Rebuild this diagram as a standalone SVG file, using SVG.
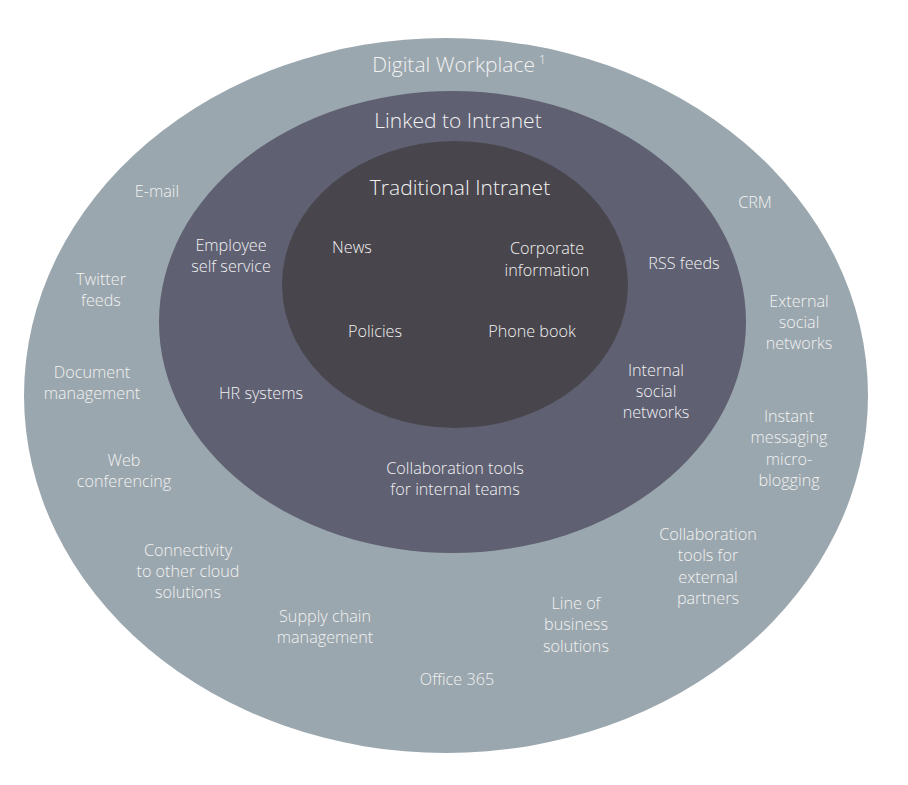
<svg xmlns="http://www.w3.org/2000/svg" width="908" height="785" viewBox="0 0 908 785">
<style>
text{font-family:"Open Sans","Noto Sans","Liberation Sans",sans-serif;fill:#F2F2F2;text-anchor:middle;font-weight:300}
.l{font-size:16.2px}
.t{font-size:21px}
</style>
<rect width="908" height="785" fill="#FFFFFF"/>
<g id="digital-workplace">
<ellipse cx="446" cy="395.5" rx="422" ry="357.5" fill="#9BA7AE"/>
<text class="t" x="459" y="72">Digital Workplace<tspan font-size="12" dx="4" dy="-8">1</tspan></text>
</g>
<g id="linked-to-intranet">
<ellipse cx="452.5" cy="322" rx="293.5" ry="231" fill="#5F6072"/>
<text class="t" x="458" y="128">Linked to Intranet</text>
</g>
<g id="traditional-intranet">
<ellipse cx="455" cy="284.5" rx="173" ry="143.5" fill="#48454C"/>
<text class="t" x="460" y="195">Traditional Intranet</text>
</g>
<g id="inner-items">
<text class="l" x="352" y="253">News</text>
<text class="l" x="547" y="254">Corporate</text>
<text class="l" x="547" y="276">information</text>
<text class="l" x="375" y="337">Policies</text>
<text class="l" x="532" y="337">Phone book</text>
</g>
<g id="middle-items">
<text class="l" x="231" y="251">Employee</text>
<text class="l" x="231" y="272">self service</text>
<text class="l" x="684" y="269">RSS feeds</text>
<text class="l" x="261" y="399">HR systems</text>
<text class="l" x="656" y="376">Internal</text>
<text class="l" x="656" y="397">social</text>
<text class="l" x="656" y="418">networks</text>
<text class="l" x="455" y="474">Collaboration tools</text>
<text class="l" x="455" y="495">for internal teams</text>
</g>
<g id="outer-items">
<text class="l" x="157" y="197">E-mail</text>
<text class="l" x="755" y="208">CRM</text>
<text class="l" x="101" y="285">Twitter</text>
<text class="l" x="101" y="306">feeds</text>
<text class="l" x="799" y="307">External</text>
<text class="l" x="799" y="328">social</text>
<text class="l" x="799" y="349">networks</text>
<text class="l" x="92" y="378">Document</text>
<text class="l" x="92" y="399">management</text>
<text class="l" x="789" y="422">Instant</text>
<text class="l" x="789" y="443">messaging</text>
<text class="l" x="789" y="465">micro-</text>
<text class="l" x="789" y="486">blogging</text>
<text class="l" x="124" y="466">Web</text>
<text class="l" x="124" y="487">conferencing</text>
<text class="l" x="708" y="540">Collaboration</text>
<text class="l" x="708" y="561">tools for</text>
<text class="l" x="708" y="583">external</text>
<text class="l" x="708" y="604">partners</text>
<text class="l" x="188" y="556">Connectivity</text>
<text class="l" x="188" y="577">to other cloud</text>
<text class="l" x="188" y="598">solutions</text>
<text class="l" x="325" y="622">Supply chain</text>
<text class="l" x="325" y="643">management</text>
<text class="l" x="576" y="609">Line of</text>
<text class="l" x="576" y="630">business</text>
<text class="l" x="576" y="652">solutions</text>
<text class="l" x="457" y="685">Office 365</text>
</g>
</svg>
